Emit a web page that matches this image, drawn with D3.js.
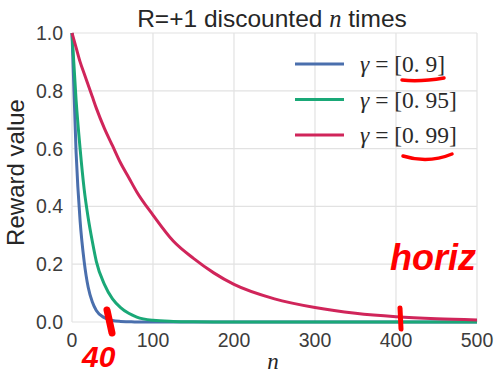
<!DOCTYPE html>
<html>
<head>
<meta charset="utf-8">
<script src="https://cdn.jsdelivr.net/npm/d3@7"></script>
<style>
  body { margin: 0; background: #fff; }
  svg { display: block; }
</style>
</head>
<body>
<div id="chart"></div>
<script>
// values
const nSteps = [0, 5, 10, 15, 20, 25, 30, 40, 50, 60, 70, 80, 100, 125, 150, 175, 200, 250, 300, 350, 400, 450, 500];
const rewardG090 = [1.00, 0.59, 0.35, 0.21, 0.12, 0.07, 0.04, 0.015, 0.005, 0.002, 0.001, 0, 0, 0, 0, 0, 0, 0, 0, 0, 0, 0, 0];
const rewardG095 = [1.00, 0.77, 0.60, 0.46, 0.36, 0.28, 0.21, 0.13, 0.08, 0.05, 0.03, 0.017, 0.006, 0.002, 0.0005, 0, 0, 0, 0, 0, 0, 0, 0];
const rewardG099 = [1.00, 0.95, 0.90, 0.86, 0.82, 0.78, 0.74, 0.67, 0.61, 0.55, 0.50, 0.45, 0.37, 0.28, 0.22, 0.17, 0.13, 0.08, 0.05, 0.03, 0.018, 0.011, 0.007];
const seriesLabels = ['[0. 9]', '[0. 95]', '[0. 99]'];
const seriesColors = ['#4a6fad', '#1aa877', '#d0255a'];
const xTicks = [0, 100, 200, 300, 400, 500];
const yTicks = [0.0, 0.2, 0.4, 0.6, 0.8, 1.0];

const width = 495;
const height = 373;
const margin = { top: 33, right: 18, bottom: 51, left: 72 };

const svg = d3.select('#chart')
  .append('svg')
  .attr('width', width)
  .attr('height', height);

const x = d3.scaleLinear().domain([0, 500]).range([margin.left, width - margin.right]);
const y = d3.scaleLinear().domain([0, 1]).range([height - margin.bottom, margin.top]);

// grid
svg.append('g')
  .selectAll('line')
  .data(xTicks)
  .enter().append('line')
  .attr('x1', d => x(d)).attr('x2', d => x(d))
  .attr('y1', y(0)).attr('y2', y(1))
  .attr('stroke', '#e2e2e2').attr('stroke-width', 1.2);

svg.append('g')
  .selectAll('line')
  .data(yTicks)
  .enter().append('line')
  .attr('x1', x(0)).attr('x2', x(500))
  .attr('y1', d => y(d)).attr('y2', d => y(d))
  .attr('stroke', '#e2e2e2').attr('stroke-width', 1.2);

// tick labels
const sans = '"Liberation Sans", Arial, sans-serif';
const serif = '"Liberation Serif", serif';
svg.append('g')
  .selectAll('text')
  .data(xTicks)
  .enter().append('text')
  .attr('x', d => x(d))
  .attr('y', 347)
  .attr('text-anchor', 'middle')
  .attr('font-family', sans)
  .attr('font-size', 19.5)
  .attr('fill', '#3c3c3c')
  .text(d => d);

svg.append('g')
  .selectAll('text')
  .data(yTicks)
  .enter().append('text')
  .attr('x', 63)
  .attr('y', d => y(d) + 7)
  .attr('text-anchor', 'end')
  .attr('font-family', sans)
  .attr('font-size', 19.5)
  .attr('fill', '#3c3c3c')
  .text(d => d3.format('.1f')(d));

// curves
const series = [rewardG090, rewardG095, rewardG099];
const line = d3.line()
  .x((d, i) => x(nSteps[i]))
  .y(d => y(d))
  .curve(d3.curveMonotoneX);

svg.append('g')
  .selectAll('path')
  .data(series)
  .enter().append('path')
  .attr('d', line)
  .attr('fill', 'none')
  .attr('stroke', (d, i) => seriesColors[i])
  .attr('stroke-width', 3);

// title
const title = svg.append('text')
  .attr('x', 272)
  .attr('y', 27)
  .attr('text-anchor', 'middle')
  .attr('font-family', sans)
  .attr('font-size', 24.5)
  .attr('fill', '#262626');
title.append('tspan').text('R=+1 discounted ');
title.append('tspan')
  .attr('font-family', serif)
  .attr('font-style', 'italic')
  .text('n');
title.append('tspan').text(' times');

// axis labels
svg.append('text')
  .attr('transform', 'translate(24,' + (y(0.5) - 5) + ') rotate(-90)')
  .attr('text-anchor', 'middle')
  .attr('font-family', sans)
  .attr('font-size', 24)
  .attr('fill', '#262626')
  .text('Reward value');

svg.append('text')
  .attr('x', 273)
  .attr('y', 369)
  .attr('text-anchor', 'middle')
  .attr('font-family', serif)
  .attr('font-style', 'italic')
  .attr('font-size', 23)
  .attr('fill', '#262626')
  .text('n');

// legend
const legend = svg.append('g')
  .selectAll('g')
  .data(seriesLabels)
  .enter().append('g')
  .attr('transform', (d, i) => 'translate(0,' + (64 + i * 35.5) + ')');

legend.append('line')
  .attr('x1', 295).attr('x2', 344)
  .attr('stroke', (d, i) => seriesColors[i])
  .attr('stroke-width', 3);

const lt = legend.append('text')
  .attr('x', 360)
  .attr('y', 8)
  .attr('font-family', serif)
  .attr('font-size', 23.5)
  .attr('fill', '#2a2a2a');
lt.append('tspan').attr('font-style', 'italic').text('γ');
lt.append('tspan').text(' = ');
lt.append('tspan').text(d => d);

// red hand annotations
const red = '#ff0000';
const marks = svg.append('g').attr('fill', 'none').attr('stroke', red).attr('stroke-linecap', 'round');
marks.append('path').attr('d', 'M402,80 Q420,82 444,78').attr('stroke-width', 3.5);
marks.append('path').attr('d', 'M403,156 Q428,164 452,154').attr('stroke-width', 3.5);
marks.append('path').attr('d', 'M107,310 L112,333').attr('stroke-width', 7);
marks.append('path').attr('d', 'M400,308 L401,329').attr('stroke-width', 5);

svg.append('text')
  .attr('x', 82)
  .attr('y', 367)
  .attr('font-family', sans)
  .attr('font-weight', 'bold')
  .attr('font-style', 'italic')
  .attr('font-size', 30)
  .attr('fill', red)
  .text('40');

svg.append('text')
  .attr('x', 390)
  .attr('y', 270)
  .attr('font-family', sans)
  .attr('font-weight', 'bold')
  .attr('font-style', 'italic')
  .attr('font-size', 36)
  .attr('fill', red)
  .text('horiz');
</script>
</body>
</html>
